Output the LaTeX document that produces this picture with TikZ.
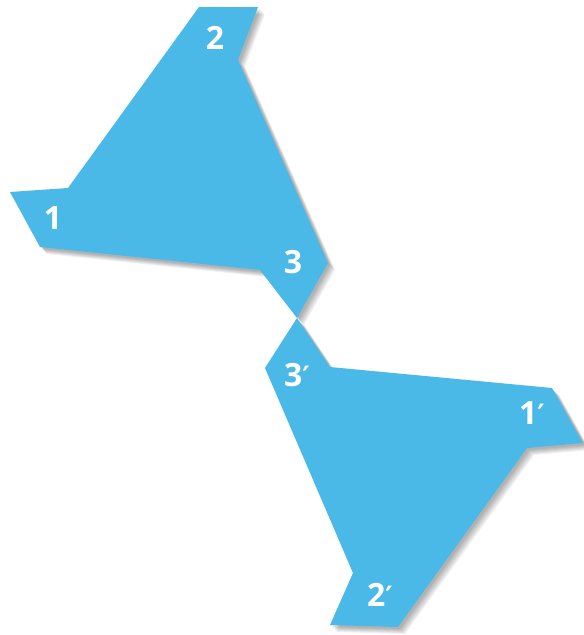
\documentclass[tikz,border=0pt]{standalone}
\usepackage{fontspec}
\setmainfont{Open Sans}
\newfontfamily\primefont{DejaVu Sans}
\definecolor{piece}{RGB}{74,185,232}
\newcommand{\upperpiece}{(199,7) -- (258,7) -- (238,60) -- (328,263) -- (297,318) -- (260,270)
  -- (40,247) -- (10,192) -- (68,188) -- cycle}
\newcommand{\lowerpiece}{(297,318) -- (330,367) -- (552,388) -- (583,443) -- (527,448)
  -- (398,627) -- (330,625) -- (353,573) -- (265,368) -- cycle}
\newcommand{\pr}{{\primefont\fontsize{28}{28}\selectfont ′}}
\tikzset{
  piece/.style={fill=piece, draw=none},
  shade/.style={fill=black, fill opacity=0.06, draw=none},
  lab/.style={text=white, font=\fontsize{32}{32}\selectfont\bfseries, inner sep=0pt}
}
\begin{document}
\begin{tikzpicture}[x=1pt,y=-1pt]
\useasboundingbox (0,0) rectangle (584,635);
% soft drop shadows
\foreach \d in {2,3,4,5,6,7}{
  \path[shade, shift={(\d,\d)}] \upperpiece;
  \path[shade, shift={(\d,\d)}] \lowerpiece;
}
% pieces
\path[piece] \upperpiece;
\path[piece] \lowerpiece;
\node[lab] (l2) at (215,38) {2};
\node[lab] (l1) at (53,218) {1};
\node[lab] (l3) at (293,262) {3};
\node[lab] (l3p) at (297,375) {3\pr};
\node[lab] (l1p) at (532,413) {1\pr};
\node[lab] (l2p) at (380,595) {2\pr};
\end{tikzpicture}
\end{document}
